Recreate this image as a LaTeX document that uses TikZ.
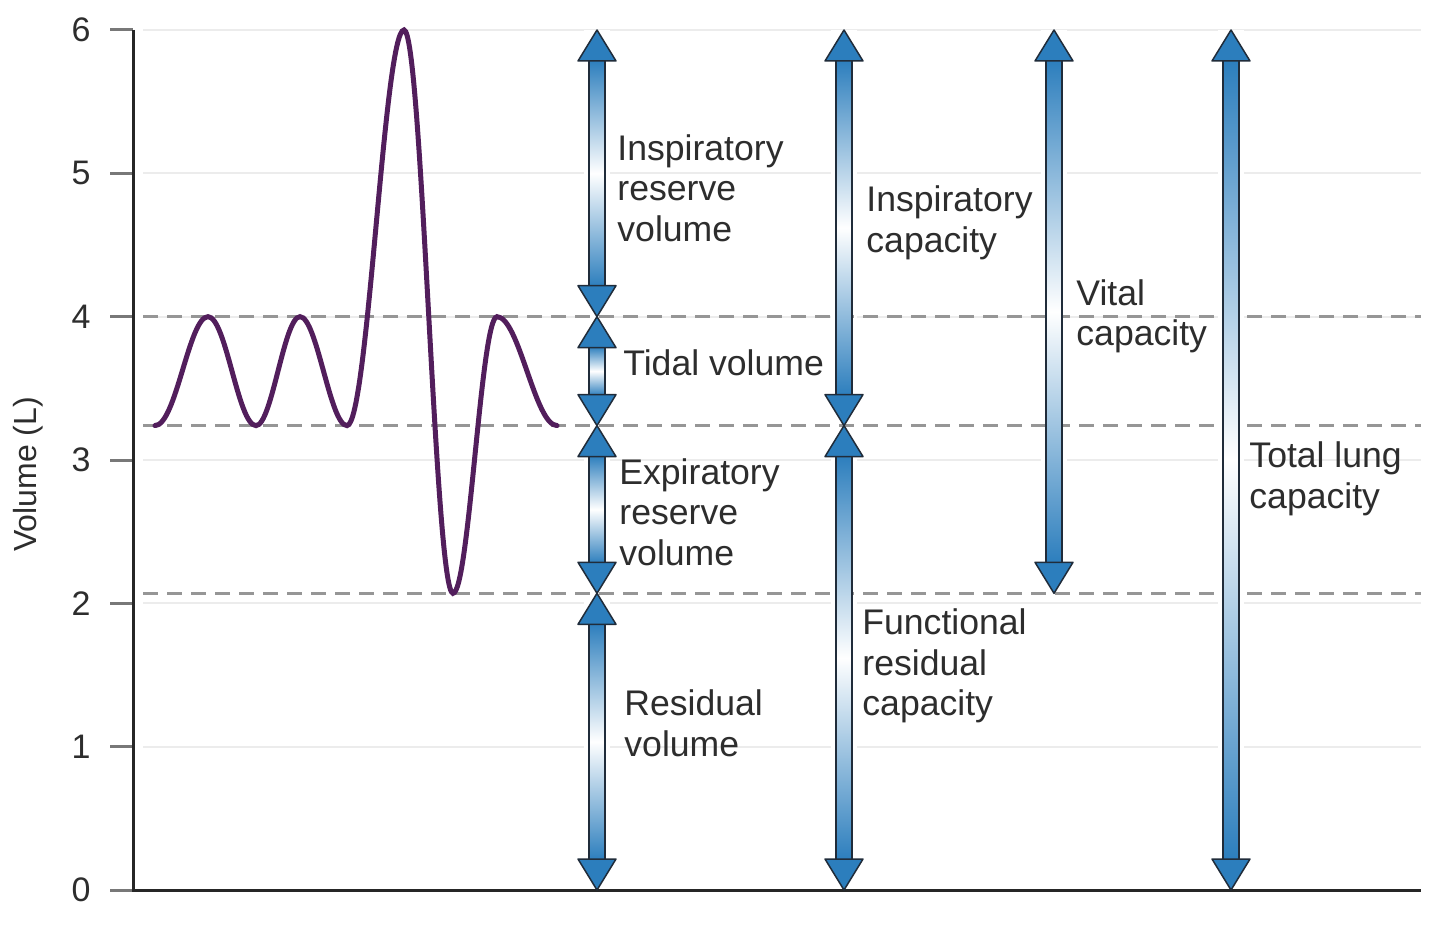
\documentclass[tikz,border=0pt]{standalone}
\usepackage{fontspec}
\setmainfont{Liberation Sans}
\usetikzlibrary{calc}

\definecolor{arrowblue}{RGB}{44,126,189}
\definecolor{arrowedge}{RGB}{32,44,58}
\definecolor{breathpurple}{RGB}{82,30,92}
\definecolor{dashgrey}{RGB}{150,150,150}
\definecolor{gridgrey}{RGB}{236,236,236}
\definecolor{labelgrey}{RGB}{45,45,45}

\tikzset{
  lbl/.style={anchor=west, inner sep=0pt, align=left, text=labelgrey,
    font=\fontsize{17.8}{20.25}\selectfont},
  ticklbl/.style={anchor=east, inner sep=0pt, text=labelgrey,
    font=\fontsize{17}{20}\selectfont},
  tickmark/.style={draw=dashgrey!80!black, line width=1.5pt},
  gridline/.style={draw=gridgrey, line width=1pt},
  level/.style={draw=dashgrey, line width=1.5pt, dash pattern=on 7.5pt off 4.5pt},
  axisline/.style={draw=black!85, line width=1.5pt},
  breath/.style={draw=breathpurple, line width=2.5pt, line cap=round}
}

% double headed shaded arrow between two named points
\newcommand{\volarrow}[2]{%
  \shadedraw[top color=arrowblue, bottom color=arrowblue, middle color=white,
    draw=arrowedge, line width=0.75pt]
    ($(#1)+(-4pt,-15pt)$) rectangle ($(#2)+(4pt,15pt)$);
  \filldraw[fill=arrowblue, draw=arrowedge, line width=0.75pt, line join=round]
    (#1) -- ++(9.5pt,-15.5pt) -- ++(-19pt,0pt) -- cycle;
  \filldraw[fill=arrowblue, draw=arrowedge, line width=0.75pt, line join=round]
    (#2) -- ++(9.5pt,15.5pt) -- ++(-19pt,0pt) -- cycle;
}
\newcommand{\halo}[2]{%
  \fill[white] ($(#1)+(-6.5pt,0pt)$) rectangle ($(#2)+(6.5pt,0pt)$);
}

\begin{document}
\begin{tikzpicture}[x=0.5pt, y=71.667pt]
  \useasboundingbox[fill=white] (-133,-0.2372) rectangle (1307,6.2093);

  % grid and axis ticks
  \foreach \v in {1,...,6} \draw[gridline] (10,\v) -- (1288,\v);
  \foreach \v in {0,...,6} {
    \draw[tickmark] (-23,\v) -- (0,\v);
    \node[ticklbl] (tick\v) at (-42,\v) {\v};
  }
  \node[ticklbl, anchor=center, rotate=90, font=\fontsize{16}{19}\selectfont]
    (ylabel) at (-105,2.9) {Volume (L)};

  % arrow columns
  \coordinate (c1top) at (464,6);    \coordinate (c1tv) at (464,4);
  \coordinate (c1erv) at (464,3.24); \coordinate (c1rv) at (464,2.07);
  \coordinate (c1bot) at (464,0);
  \coordinate (c2top) at (711,6);    \coordinate (c2frc) at (711,3.24);
  \coordinate (c2bot) at (711,0);
  \coordinate (c3top) at (921,6);    \coordinate (c3bot) at (921,2.07);
  \coordinate (c4top) at (1098,6);   \coordinate (c4bot) at (1098,0);

  \halo{c1top}{c1bot} \halo{c2top}{c2bot} \halo{c3top}{c3bot} \halo{c4top}{c4bot}

  % levels
  \foreach \l in {4,3.24,2.07} \draw[level] (10,\l) -- (1288,\l);
  \draw[axisline] (0,6) -- (0,0) -- (1288,0);

  % spirogram trace
  \draw[breath] (22,3.24)
    .. controls +(21,0) and +(-19,0) .. (75,4)
    .. controls +(18,0) and +(-18,0) .. (123,3.24)
    .. controls +(16,0) and +(-16,0) .. (167,4)
    .. controls +(17,0) and +(-17,0) .. (214,3.24)
    .. controls +(21,0) and +(-20,0) .. (271,6)
    .. controls +(18,0) and +(-18,0) .. (320,2.07)
    .. controls +(16,0) and +(-16,0) .. (364,4)
    .. controls +(22,0) and +(-22,0) .. (424,3.24);

  \volarrow{c1top}{c1tv}
  \volarrow{c1tv}{c1erv}
  \volarrow{c1erv}{c1rv}
  \volarrow{c1rv}{c1bot}
  \volarrow{c2top}{c2frc}
  \volarrow{c2frc}{c2bot}
  \volarrow{c3top}{c3bot}
  \volarrow{c4top}{c4bot}

  % labels
  \node[lbl] (irv) at (484,4.898) {Inspiratory\\reserve\\volume};
  \node[lbl] (tv) at (490,3.677) {Tidal volume};
  \node[lbl] (erv) at (486,2.637) {Expiratory\\reserve\\volume};
  \node[lbl] (rv) at (491,1.165) {Residual\\volume};
  \node[lbl] (ic) at (733,4.654) {Inspiratory\\capacity};
  \node[lbl] (frc) at (729,1.563) {Functional\\residual\\capacity};
  \node[lbl] (vc) at (943,4.001) {Vital\\capacity};
  \node[lbl] (tlc) at (1116,2.868) {Total lung\\capacity};
\end{tikzpicture}
\end{document}
